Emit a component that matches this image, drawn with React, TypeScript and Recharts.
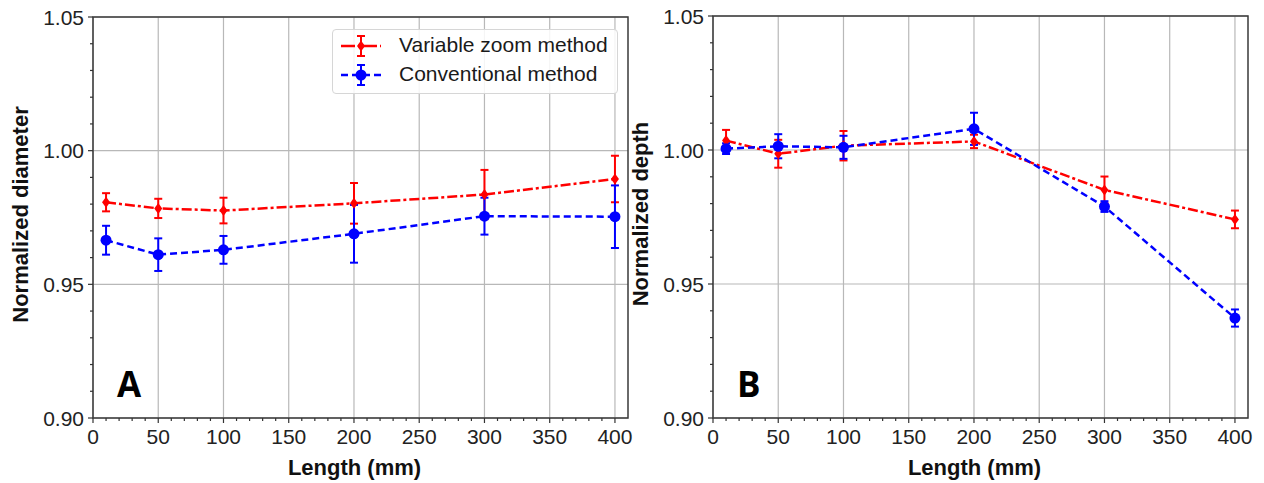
import {
  LineChart,
  Line,
  XAxis,
  YAxis,
  CartesianGrid,
  ErrorBar,
  ReferenceArea,
} from "recharts";

// lengths (mm)
const lengths = [10, 50, 100, 200, 300, 400];

// panel A: normalized diameter
const diamVarZoom = [0.9807, 0.9784, 0.9776, 0.9803, 0.9836, 0.9894];
const diamVarZoomErr = [0.0034, 0.0036, 0.0048, 0.0076, 0.0092, 0.0087];
const diamConv = [0.9665, 0.9611, 0.9629, 0.9689, 0.9755, 0.9753];
const diamConvErr = [0.0054, 0.0061, 0.0052, 0.0108, 0.0069, 0.0117];

// panel B: normalized depth
const depthVarZoom = [1.0035, 0.9986, 1.0016, 1.0032, 0.9851, 0.9741];
const depthVarZoomErr = [0.004, 0.0052, 0.0055, 0.0025, 0.005, 0.0033];
const depthConv = [1.0005, 1.0014, 1.001, 1.0079, 0.9789, 0.9373];
const depthConvErr = [0.002, 0.0045, 0.0043, 0.006, 0.002, 0.0032];

const xMajorTicks = [0, 50, 100, 150, 200, 250, 300, 350, 400];
const xAllTicks = [
  0, 10, 20, 30, 40, 50, 60, 70, 80, 90, 100, 110, 120, 130, 140, 150, 160,
  170, 180, 190, 200, 210, 220, 230, 240, 250, 260, 270, 280, 290, 300, 310,
  320, 330, 340, 350, 360, 370, 380, 390, 400,
];
const yMajorTicks = [0.9, 0.95, 1.0, 1.05];
const yAllTicks = [
  0.9, 0.91, 0.92, 0.93, 0.94, 0.95, 0.96, 0.97, 0.98, 0.99, 1.0, 1.01, 1.02,
  1.03, 1.04, 1.05,
];

const RED = "#ff0000";
const BLUE = "#0000ff";
const FONT = "'Liberation Sans', Arial, sans-serif";

const build = (v: number[], ve: number[], c: number[], ce: number[]) =>
  lengths.map((len, i) => ({
    len,
    vz: v[i],
    vzErr: ve[i],
    cv: c[i],
    cvErr: ce[i],
  }));

const dataA = build(diamVarZoom, diamVarZoomErr, diamConv, diamConvErr);
const dataB = build(depthVarZoom, depthVarZoomErr, depthConv, depthConvErr);

const XTick = (props: any) => {
  const { x, y, payload } = props;
  const major = xMajorTicks.includes(payload.value);
  return (
    <g>
      <line x1={x} y1={y} x2={x} y2={y + (major ? 5 : 3)} stroke="#333" strokeWidth={1.2} />
      {major && (
        <text x={x} y={y + 26} textAnchor="middle" fontSize={21} fill="#222" fontFamily={FONT}>
          {payload.value}
        </text>
      )}
    </g>
  );
};

const YTick = (props: any) => {
  const { x, y, payload } = props;
  const major = Math.round(payload.value * 100) % 5 === 0;
  return (
    <g>
      <line x1={x - (major ? 5 : 3)} y1={y} x2={x} y2={y} stroke="#333" strokeWidth={1.2} />
      {major && (
        <text x={x - 9} y={y + 7.5} textAnchor="end" fontSize={21} fill="#222" fontFamily={FONT}>
          {payload.value.toFixed(2)}
        </text>
      )}
    </g>
  );
};

const Diamond = (p: any) => (
  <path
    key={p.index}
    d={`M${p.cx},${p.cy - 5.5}L${p.cx + 4},${p.cy}L${p.cx},${p.cy + 5.5}L${p.cx - 4},${p.cy}Z`}
    fill={RED}
  />
);

const Legend = () => (
  <div
    style={{
      position: "absolute",
      left: 332,
      top: 29,
      width: 284,
      height: 63,
      border: "1px solid #d6d6d6",
      borderRadius: 4,
      background: "rgba(255,255,255,0.85)",
      fontFamily: FONT,
      fontSize: 21,
      color: "#1a1a1a",
    }}
  >
    <svg width={60} height={63} style={{ position: "absolute", left: 0, top: 0 }}>
      <line x1={8} y1={16} x2={48} y2={16} stroke={RED} strokeWidth={2.5} strokeDasharray="14 3 2 3" />
      <line x1={28} y1={6} x2={28} y2={26} stroke={RED} strokeWidth={2} />
      <line x1={24} y1={6} x2={32} y2={6} stroke={RED} strokeWidth={2} />
      <line x1={24} y1={26} x2={32} y2={26} stroke={RED} strokeWidth={2} />
      <path d="M28,10.5L32,16L28,21.5L24,16Z" fill={RED} />
      <line x1={8} y1={45} x2={48} y2={45} stroke={BLUE} strokeWidth={2.5} strokeDasharray="7 4" />
      <line x1={28} y1={35} x2={28} y2={55} stroke={BLUE} strokeWidth={2} />
      <line x1={24} y1={35} x2={32} y2={35} stroke={BLUE} strokeWidth={2} />
      <line x1={24} y1={55} x2={32} y2={55} stroke={BLUE} strokeWidth={2} />
      <circle cx={28} cy={45} r={5.5} fill={BLUE} />
    </svg>
    <div style={{ position: "absolute", left: 66, top: 3, whiteSpace: "nowrap" }}>Variable zoom method</div>
    <div style={{ position: "absolute", left: 66, top: 32, whiteSpace: "nowrap" }}>Conventional method</div>
  </div>
);

function Panel({
  data,
  yLabel,
  letter,
  top,
}: {
  data: any[];
  yLabel: string;
  letter: string;
  top: number;
}) {
  return (
    <LineChart
      width={640}
      height={483}
      data={data}
      margin={{ top, right: 12, bottom: 0, left: 0 }}
    >
      <CartesianGrid
        stroke="#b8b8b8"
        strokeWidth={1.2}
        verticalValues={xMajorTicks}
        horizontalValues={yMajorTicks}
      />
      <XAxis
        dataKey="len"
        type="number"
        domain={[0, 410]}
        ticks={xAllTicks}
        interval={0}
        tickSize={0}
        tickMargin={0}
        tickLine={false}
        axisLine={false}
        tick={<XTick />}
        height={65}
        label={(p: any) => (
          <text
            x={p.viewBox.x + p.viewBox.width / 2 - 6}
            y={p.viewBox.y + 57}
            textAnchor="middle"
            fontSize={22}
            fontWeight="bold"
            fontFamily={FONT}
            fill="#111"
          >
            Length (mm)
          </text>
        )}
      />
      <YAxis
        type="number"
        domain={[0.9, 1.05]}
        ticks={yAllTicks}
        interval={0}
        tickSize={0}
        tickMargin={0}
        tickLine={false}
        axisLine={false}
        tick={<YTick />}
        width={93}
        label={(p: any) => {
          const cx = 28;
          const cy = p.viewBox.y + p.viewBox.height / 2 - 3;
          return (
            <text
              x={cx}
              y={cy}
              transform={`rotate(-90 ${cx} ${cy})`}
              textAnchor="middle"
              fontSize={22}
              fontWeight="bold"
              fontFamily={FONT}
              fill="#111"
            >
              {yLabel}
            </text>
          );
        }}
      />
      <ReferenceArea
        x1={0}
        x2={410}
        y1={0.9}
        y2={1.05}
        fill="none"
        fillOpacity={0}
        stroke="#3a3a3a"
        strokeWidth={1.5}
        ifOverflow="visible"
        label={(p: any) => (
          <text
            x={p.viewBox.x + 24}
            y={p.viewBox.y + p.viewBox.height - 21}
            fontSize={35}
            fontWeight="bold"
            fontFamily="'Open Sans', sans-serif"
            fill="#000"
          >
            {letter}
          </text>
        )}
      />
      <Line
        dataKey="vz"
        stroke={RED}
        strokeWidth={2.5}
        strokeDasharray="10 3 3 3"
        dot={Diamond}
        isAnimationActive={false}
      >
        <ErrorBar dataKey="vzErr" direction="y" width={4} stroke={RED} strokeWidth={2} />
      </Line>
      <Line
        dataKey="cv"
        stroke={BLUE}
        strokeWidth={2.5}
        strokeDasharray="7 4"
        dot={{ r: 5.5, fill: BLUE, stroke: BLUE, strokeWidth: 0 }}
        isAnimationActive={false}
      >
        <ErrorBar dataKey="cvErr" direction="y" width={4} stroke={BLUE} strokeWidth={2} />
      </Line>
    </LineChart>
  );
}

export default function App() {
  return (
    <div style={{ position: "absolute", left: 0, top: 0, width: 1264, height: 483, background: "#fff" }}>
      <div style={{ position: "absolute", left: 0, top: 0 }}>
        <Panel data={dataA} yLabel="Normalized diameter" letter="A" top={17} />
        <Legend />
      </div>
      <div style={{ position: "absolute", left: 620, top: 0 }}>
        <Panel data={dataB} yLabel="Normalized depth" letter="B" top={16} />
      </div>
    </div>
  );
}
